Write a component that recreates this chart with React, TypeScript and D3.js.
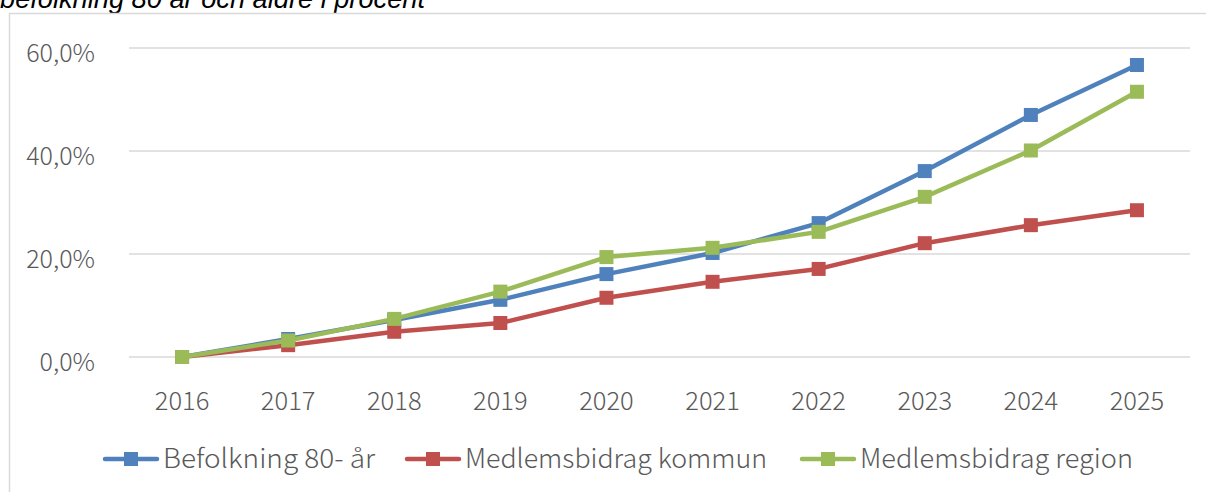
import React, { useEffect, useRef } from "react";
import * as d3 from "d3";

const width = 1206;
const height = 492;

const years = ["2016", "2017", "2018", "2019", "2020", "2021", "2022", "2023", "2024", "2025"];
const befolkning = [0, 3.5, 7.2, 11.1, 16.1, 20.2, 26.0, 36.1, 47.0, 56.7];
const kommun = [0, 2.3, 4.9, 6.6, 11.5, 14.6, 17.1, 22.1, 25.6, 28.5];
const region = [0, 3.2, 7.4, 12.7, 19.4, 21.2, 24.3, 31.1, 40.1, 51.5];
const yTicks = [0, 20, 40, 60];

const seriesNames = ["Befolkning 80- år", "Medlemsbidrag kommun", "Medlemsbidrag region"];
const seriesColors = ["#4F81BD", "#C0504D", "#9BBB59"];

const font = "'Noto Sans CJK JP', 'Noto Sans', sans-serif";

const App = () => {
  const ref = useRef<SVGSVGElement>(null);

  useEffect(() => {
    const svg = d3.select(ref.current);
    svg.selectAll("*").remove();

    const x = d3.scalePoint().domain(years).range([129, 1190]).padding(0.5);
    const y = d3.scaleLinear().domain([0, 60]).range([357, 48]);

    // title, cut off at the top like in the source
    svg.append("text")
      .attr("x", 0)
      .attr("y", 8)
      .attr("font-family", "'Liberation Sans', Arial, sans-serif")
      .attr("font-style", "italic")
      .attr("font-size", 27)
      .attr("textLength", 425)
      .attr("lengthAdjust", "spacingAndGlyphs")
      .attr("fill", "#000")
      .text("befolkning 80 år och äldre i procent");

    // frame
    svg.append("rect")
      .attr("x", 9.5)
      .attr("y", 13.5)
      .attr("width", width)
      .attr("height", height)
      .attr("fill", "none")
      .attr("stroke", "#D9D9D9")
      .attr("stroke-width", 1.5);

    // grid
    svg.append("g")
      .selectAll("line")
      .data(yTicks)
      .join("line")
      .attr("x1", 129)
      .attr("x2", 1190)
      .attr("y1", d => y(d))
      .attr("y2", d => y(d))
      .attr("stroke", "#D9D9D9")
      .attr("stroke-width", 1.5);

    const fmt = (d: number) => d3.format(".1f")(d).replace(".", ",") + "%";

    svg.append("g")
      .selectAll("text")
      .data(yTicks)
      .join("text")
      .attr("x", 95)
      .attr("y", d => y(d) + 14)
      .attr("text-anchor", "end")
      .attr("font-family", font)
      .attr("font-weight", 300)
      .attr("font-size", 25)
      .attr("fill", "#595959")
      .text(fmt);

    svg.append("g")
      .selectAll("text")
      .data(years)
      .join("text")
      .attr("x", d => x(d)!)
      .attr("y", 410)
      .attr("text-anchor", "middle")
      .attr("font-family", font)
      .attr("font-weight", 300)
      .attr("font-size", 25.5)
      .attr("fill", "#595959")
      .text(d => d);

    const allSeries = [befolkning, kommun, region];
    const line = d3.line<number>()
      .x((d, i) => x(years[i])!)
      .y(d => y(d));

    allSeries.forEach((vals, si) => {
      const g = svg.append("g");
      g.append("path")
        .datum(vals)
        .attr("d", line)
        .attr("fill", "none")
        .attr("stroke", seriesColors[si])
        .attr("stroke-width", 4.5)
        .attr("stroke-linejoin", "round")
        .attr("stroke-linecap", "round");
      g.selectAll("rect")
        .data(vals)
        .join("rect")
        .attr("x", (d, i) => x(years[i])! - 7)
        .attr("y", d => y(d) - 7)
        .attr("width", 14)
        .attr("height", 14)
        .attr("fill", seriesColors[si]);
    });

    // legend
    const legendX = [103, 405, 800];
    const legend = svg.append("g")
      .selectAll("g")
      .data(seriesNames)
      .join("g")
      .attr("transform", (d, i) => `translate(${legendX[i]},459)`);
    legend.append("line")
      .attr("x1", 2)
      .attr("x2", 54)
      .attr("stroke", (d, i) => seriesColors[i])
      .attr("stroke-width", 4.5)
      .attr("stroke-linecap", "round");
    legend.append("rect")
      .attr("x", 21)
      .attr("y", -7)
      .attr("width", 14)
      .attr("height", 14)
      .attr("fill", (d, i) => seriesColors[i]);
    legend.append("text")
      .attr("x", 60)
      .attr("y", 9)
      .attr("font-family", font)
      .attr("font-weight", 300)
      .attr("font-size", 26.5)
      .attr("textLength", (d, i) => [212, 302, 273][i])
      .attr("lengthAdjust", "spacingAndGlyphs")
      .attr("fill", "#595959")
      .text(d => d);
  }, []);

  return (
    <div style={{ position: "fixed", left: 0, top: 0 }}>
      <svg ref={ref} width={width} height={height} style={{ display: "block", background: "#fff" }} />
    </div>
  );
};

export default App;
